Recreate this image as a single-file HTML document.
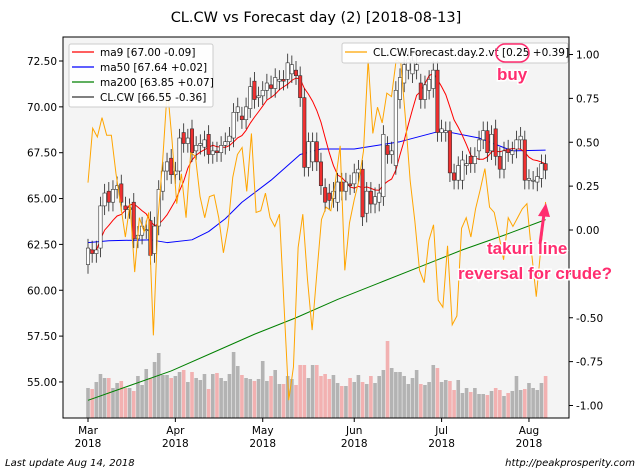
<!DOCTYPE html>
<html><head><meta charset="utf-8">
<style>
html,body{margin:0;padding:0;background:#fff;}
svg{display:block;font-family:"DejaVu Sans","Liberation Sans",sans-serif;}
</style></head>
<body>
<svg id="chart" width="640" height="475" viewBox="0 0 640 475" xmlns="http://www.w3.org/2000/svg">
  <rect x="0" y="0" width="640" height="475" fill="#fff"/>
  <text x="316" y="22" font-size="14.5" text-anchor="middle" fill="#000">CL.CW vs Forecast day (2)  [2018-08-13]</text>
  <rect x="63" y="37" width="506" height="381" fill="#f4f4f4" stroke="none"/>
  <g id="vol"></g>
  <g id="lines"></g>
  <g id="candles"></g>
  <g id="fc"></g>
  <rect x="63" y="37" width="506" height="381" fill="none" stroke="#000" stroke-width="1"/>
  <g id="axes"></g>

  <g>
    <rect x="69" y="44" width="144" height="63" fill="#fff" fill-opacity="0.9" stroke="#ccc" rx="2"/>
    <line x1="72" y1="52" x2="94" y2="52" stroke="#f00" stroke-width="1.2"/>
    <text x="100" y="56" font-size="10.5">ma9 [67.00 -0.09]</text>
    <line x1="72" y1="67" x2="94" y2="67" stroke="#00f" stroke-width="1.2"/>
    <text x="100" y="71" font-size="10.5">ma50 [67.64 +0.02]</text>
    <line x1="72" y1="82" x2="94" y2="82" stroke="#008000" stroke-width="1.2"/>
    <text x="100" y="86" font-size="10.5">ma200 [63.85 +0.07]</text>
    <line x1="72" y1="97" x2="94" y2="97" stroke="#000" stroke-width="1"/>
    <text x="100" y="101" font-size="10.5">CL.CW [66.55 -0.36]</text>
  </g>
  <g>
    <rect x="342" y="43" width="226" height="20" fill="#fff" fill-opacity="0.9" stroke="#ccc" rx="2"/>
    <line x1="345" y1="52" x2="367" y2="52" stroke="#ffa500" stroke-width="1.2"/>
    <text x="373" y="56" font-size="10.5">CL.CW.Forecast.day.2.vt [0.25 +0.39]</text>
    <rect x="496" y="44" width="33" height="18" rx="9" fill="none" stroke="#ff2d6f" stroke-width="1.6"/>
  </g>
  <g font-family="Liberation Sans, sans-serif" font-weight="bold" fill="#ff2d6f" stroke="#fff" stroke-width="3" paint-order="stroke">
    <text x="497" y="80" font-size="17">buy</text>
    <text x="487" y="254" font-size="17">takuri line</text>
    <text x="458" y="279" font-size="17">reversal for crude?</text>
  </g>
  <g>
    <line x1="540" y1="244" x2="544" y2="214" stroke="#ff2d6f" stroke-width="3"/>
    <polygon points="546,203 538,216 550,217" fill="#ff2d6f"/>
  </g>
  <text x="5" y="466" font-size="10" font-style="italic">Last update Aug 14, 2018</text>
  <text x="635" y="466" font-size="10" font-style="italic" text-anchor="end">http://peakprosperity.com</text>
</svg>
<script>
const opens=[61.4,62.2,62.0,62.3,64.6,65.4,64.8,65.5,65.8,64.6,64.4,64.8,62.8,63.0,63.3,63.8,62.0,63.5,65.4,66.5,67.2,
66.3,66.5,68.6,68.0,68.8,67.6,67.9,67.8,68.5,67.4,67.6,67.5,67.9,68.1,68.3,69.7,69.5,69.3,69.9,71.4,70.5,
70.6,70.9,71.2,71.0,71.4,71.5,71.5,71.8,72.0,71.7,70.5,66.7,67.0,68.1,67.0,65.6,65.3,65.0,64.8,65.9,65.4,65.8,
65.8,66.4,66.6,64.2,65.4,64.7,64.8,65.1,67.9,67.4,66.8,70.4,71.3,72.0,71.8,72.0,71.3,70.4,70.9,71.0,72.0,
68.6,68.6,68.7,66.4,66.0,66.0,66.8,67.3,66.9,67.6,68.2,68.7,67.6,68.8,67.3,66.6,67.7,67.4,67.7,68.2,68.2,
66.0,66.0,65.9,66.1,66.9];
const closes=[62.3,62.0,62.2,64.6,65.3,64.8,65.5,65.7,64.8,64.4,64.5,62.8,63.0,63.5,63.3,61.9,63.5,65.5,66.5,67.0,66.3,
66.5,68.3,68.0,68.3,67.5,67.9,68.0,68.2,67.4,67.6,67.5,67.9,68.1,68.4,69.7,70.0,69.3,70.0,71.1,70.4,70.6,
70.9,71.3,71.0,71.6,71.5,71.4,72.4,72.3,71.7,70.5,66.7,68.1,68.1,67.0,65.7,64.8,64.9,65.4,65.9,65.4,65.9,65.7,
66.4,66.6,64.0,65.4,64.7,65.1,65.3,68.5,67.4,67.6,70.9,71.6,72.3,72.6,72.5,72.3,70.4,71.2,71.5,72.0,68.6,
68.8,68.7,66.4,66.0,66.8,67.1,66.9,66.9,67.3,68.2,68.7,67.5,68.5,67.3,66.6,67.6,67.5,67.6,68.2,68.4,66.0,
66.1,66.0,66.2,66.9,66.55];
const volumes=[30,29,36,44,40,40,30,35,37,30,30,27,42,33,49,40,56,65,43,43,40,
42,46,48,36,46,40,38,44,29,44,45,40,37,44,66,52,43,40,39,37,39,
57,37,42,48,34,34,42,39,33,53,53,40,53,53,42,44,39,43,35,32,32,40,
36,43,36,34,42,35,42,48,77,50,46,46,42,34,40,48,34,33,36,53,50,
36,38,37,28,38,25,30,26,30,24,24,23,27,30,28,22,25,27,42,28,29,
35,30,28,35,42];
const forecast=[0.27,0.58,0.53,0.64,0.54,0.54,0.32,0.14,-0.04,0.15,-0.24,0.07,-0.01,0.10,-0.60,0.07,0.40,0.81,0.51,0.15,0.32,0.07,0.44,0.42,0.19,0.07,0.19,0.20,0.07,-0.13,0.02,0.30,0.43,0.47,
0.22,0.55,0.10,0.11,0.21,0.07,0.02,0.09,-0.44,-0.97,-0.78,-0.10,0.09,-0.28,-0.57,-0.25,0.06,0.13,0.11,0.28,0.48,-0.23,0.04,0.17,0.28,0.45,0.97,0.55,0.70,0.61,0.78,
0.76,0.97,0.95,0.63,0.28,0.05,-0.23,-0.30,-0.06,0.03,-0.40,-0.44,-0.09,-0.54,-0.49,0.01,0.07,-0.04,0.12,0.23,0.35,0.13,0.10,-0.03,-0.17,0.07,0.02,0.07,0.12,0.15,-0.13,-0.38,-0.10,0.16];
const ma50Idx=[0,5,15,19,25,29,33,37,44,51,56,64,75,85,94,102,110];
const ma50=[62.6,62.7,62.75,62.6,62.75,63.2,63.9,64.8,66.0,67.4,67.7,67.7,68.1,68.7,68.3,67.6,67.64];
const ma200Idx=[0,10,20,30,40,50,60,70,80,90,100,110];
const ma200=[54.0,54.8,55.6,56.6,57.6,58.5,59.5,60.4,61.3,62.2,63.0,63.85];
const leftTicks=[72.5,70,67.5,65,62.5,60,57.5,55];
const rightTicks=[1,0.75,0.5,0.25,0,-0.25,-0.5,-0.75,-1];
const monthLabels=["Mar","Apr","May","Jun","Jul","Aug"];
const monthIdx=[0,21,42,64,85,106];

const NS="http://www.w3.org/2000/svg";
const X=i=>88+i*4.16;
const Y=p=>61+(72.5-p)*18.34;
const YR=v=>230-v*175.5;
const VY=v=>418-v;
function mk(tag,attrs,parent){const e=document.createElementNS(NS,tag);for(const k in attrs)e.setAttribute(k,attrs[k]);parent.appendChild(e);return e;}
const gV=document.getElementById('vol'),gL=document.getElementById('lines'),gC=document.getElementById('candles'),gF=document.getElementById('fc'),gA=document.getElementById('axes');

volumes.forEach((v,i)=>{
  const down=closes[i]<opens[i];
  const r=mk('rect',{x:X(i)-1.8,y:VY(v),width:3.6,height:418-VY(v),fill:down?'#f2b1b1':'#b3b3b3'},gV);
  
  
});
let pts=ma200.map((v,k)=>X(ma200Idx[k])+','+Y(v)).join(' ');
let l=mk('polyline',{points:pts,fill:'none',stroke:'#008000','stroke-width':1},gL);


pts=ma50.map((v,k)=>X(ma50Idx[k])+','+Y(v)).join(' ');
l=mk('polyline',{points:pts,fill:'none',stroke:'#0000ff','stroke-width':1,'stroke-linejoin':'round'},gL);


const ma9=closes.map((c,i)=>{const s=closes.slice(Math.max(0,i-8),i+1);return s.reduce((a,b)=>a+b,0)/s.length;});
pts=ma9.map((v,i)=>X(i)+','+Y(v)).join(' ');
l=mk('polyline',{points:pts,fill:'none',stroke:'#ff0000','stroke-width':1},gL);



closes.forEach((c,i)=>{
  const o=opens[i],down=c<o,top=Math.max(o,c),bot=Math.min(o,c);
  const w=mk('line',{x1:X(i),x2:X(i),y1:Y(top+0.5),y2:Y(bot-0.5),stroke:'#222','stroke-width':0.8},gC);
  
  
  const b=mk('rect',{x:X(i)-1.7,y:Y(top),width:3.4,height:Math.max(1,Y(bot)-Y(top)),fill:down?'#f03030':'#fff',stroke:'#333','stroke-width':0.6},gC);
  
  
});

const step=110/(forecast.length-1);
pts=forecast.map((v,k)=>X(k*step)+','+YR(v)).join(' ');
l=mk('polyline',{points:pts,fill:'none',stroke:'#ffa500','stroke-width':1},gF);



leftTicks.forEach(t=>{
  mk('line',{x1:59,x2:63,y1:Y(t),y2:Y(t),stroke:'#000'},gA);
  const tx=mk('text',{x:57,y:Y(t)+4,'font-size':10.5,'text-anchor':'end'},gA);
  tx.textContent=t.toFixed(2);
  
  
});
rightTicks.forEach(t=>{
  mk('line',{x1:569,x2:573,y1:YR(t),y2:YR(t),stroke:'#000'},gA);
  const tx=mk('text',{x:576,y:YR(t)+4,'font-size':10.5},gA);
  tx.textContent=t.toFixed(2);
  
  
});
monthLabels.forEach((m,k)=>{
  const x=X(monthIdx[k]);
  mk('line',{x1:x,x2:x,y1:418,y2:422,stroke:'#000'},gA);
  const t1=mk('text',{x:x,y:434,'font-size':10.5,'text-anchor':'middle'},gA);
  t1.textContent=m;
  
  
  const t2=mk('text',{x:x,y:447,'font-size':10.5,'text-anchor':'middle'},gA);
  t2.textContent='2018';
  
  
});
</script>
</body></html>
